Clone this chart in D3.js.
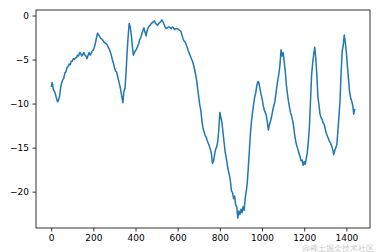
<!DOCTYPE html>
<html>
<head>
<meta charset="utf-8">
<script src="https://cdn.jsdelivr.net/npm/d3@7"></script>
<style>
  body { margin: 0; background: #fff; }
  text { font-family: "DejaVu Sans", sans-serif; }
</style>
</head>
<body>
<div id="chart"></div>
<script>
const xStep = 5;
const values = [
  -8.1, -7.6, -8.4, -8.6, -8.9, -9.4, -9.8, -9.6, -9.1, -8.2,
  -7.6, -7.3, -7.1, -6.5, -6.4, -5.9, -5.8, -5.5, -5.6, -5.2,
  -5.2, -4.9, -5.0, -4.8, -4.8, -4.5, -4.6, -4.2, -4.3, -4.6,
  -4.4, -4.2, -4.5, -4.6, -4.9, -4.5, -4.2, -4.5, -4.3, -4.0,
  -3.9, -3.6, -3.1, -2.5, -2.0, -2.2, -2.4, -2.6, -2.7, -2.8,
  -3.0, -3.1, -3.2, -3.3, -3.6, -3.8, -4.1, -4.5, -5.0, -5.4,
  -5.9, -6.3, -6.4, -6.9, -7.4, -7.9, -8.5, -9.2, -9.9, -8.6,
  -8.3, -6.5, -4.2, -2.4, -0.9, -1.3, -2.2, -3.5, -4.5, -4.2,
  -4.0, -3.8, -3.5, -3.2, -2.7, -2.5, -2.1, -1.7, -1.4, -1.9,
  -2.3, -1.7, -1.4, -1.2, -1.1, -0.9, -0.8, -0.7, -0.6, -0.9,
  -1.0, -1.1, -0.9, -0.8, -0.7, -0.5, -0.7, -1.0, -1.3, -1.5,
  -1.4, -1.3, -1.3, -1.4, -1.5, -1.3, -1.4, -1.6, -1.5, -1.5,
  -1.5, -1.6, -1.7, -1.8, -2.2, -2.6, -2.9, -3.0, -3.3, -3.6,
  -4.0, -4.3, -4.6, -4.9, -5.2, -5.6, -6.1, -6.7, -7.4, -8.4,
  -9.3, -10.2, -10.8, -12.0, -12.8, -13.2, -13.6, -13.8, -14.2, -14.5,
  -14.8, -15.2, -15.7, -16.8, -16.5, -15.8, -15.2, -14.9, -14.3, -13.0,
  -11.0, -11.6, -12.2, -13.3, -14.4, -15.5, -16.1, -16.9, -17.6, -18.1,
  -18.8, -19.9, -20.1, -20.8, -20.5, -21.5, -21.7, -23.0, -22.2, -22.6,
  -22.0, -22.4, -21.7, -22.1, -20.8, -20.0, -19.0, -17.2, -15.3, -13.4,
  -12.0, -11.0, -10.1, -9.3, -8.8, -8.0, -7.5, -7.6, -8.3, -8.9,
  -9.4, -10.1, -10.7, -11.0, -11.3, -12.1, -13.0, -12.4, -12.0, -11.5,
  -10.9, -10.3, -9.9, -9.0, -8.1, -7.3, -6.6, -5.6, -3.9, -4.6,
  -4.2, -5.2, -6.3, -7.8, -8.8, -9.7, -10.4, -11.0, -11.4, -11.9,
  -12.6, -13.6, -14.3, -14.8, -15.2, -15.6, -16.0, -16.5, -16.4, -17.0,
  -16.6, -16.9, -16.2, -15.5, -14.2, -12.5, -9.6, -6.8, -5.4, -4.4,
  -3.6, -4.9, -6.8, -9.2, -10.2, -11.2, -11.6, -11.8, -12.2, -12.4,
  -12.9, -13.4, -13.7, -14.0, -14.3, -14.5, -14.8, -15.2, -15.8, -15.3,
  -15.0, -14.6, -13.0, -11.4, -9.6, -6.5, -4.1, -3.4, -2.2, -3.1,
  -4.2, -5.8, -7.2, -8.6, -9.3, -9.7, -10.2, -11.2, -10.6
];
const xTicks = [0, 200, 400, 600, 800, 1000, 1200, 1400];
const yTicks = [0, -5, -10, -15, -20];

const W = 380, H = 252;
const margin = {top: 10, right: 10, bottom: 24, left: 36};

const svg = d3.select("#chart").append("svg")
    .attr("width", W)
    .attr("height", H);

const data = values.map((v, i) => ({x: i * xStep, y: v}));

// matplotlib style 5% padding round the data
const xExt = d3.extent(data, d => d.x);
const yExt = d3.extent(data, d => d.y);
const xPad = (xExt[1] - xExt[0]) * 0.05;
const yPad = (yExt[1] - yExt[0]) * 0.05;

const x = d3.scaleLinear()
    .domain([xExt[0] - xPad, xExt[1] + xPad])
    .range([margin.left, W - margin.right]);
const y = d3.scaleLinear()
    .domain([yExt[0] - yPad, yExt[1] + yPad])
    .range([H - margin.bottom, margin.top]);

const fmt = d => d < 0 ? "\u2212" + Math.abs(d) : String(d);

svg.append("g")
    .attr("transform", "translate(0," + (H - margin.bottom) + ")")
    .call(d3.axisBottom(x).tickValues(xTicks).tickSize(3.5).tickPadding(3.5).tickFormat(fmt))
    .call(g => g.select(".domain").remove())
    .call(g => g.selectAll("text").attr("font-size", 9).attr("fill", "#000").attr("font-family", "DejaVu Sans"))
    .call(g => g.selectAll("line").attr("stroke", "#000").attr("stroke-width", 0.8));

svg.append("g")
    .attr("transform", "translate(" + margin.left + ",0)")
    .call(d3.axisLeft(y).tickValues(yTicks).tickSize(3.5).tickPadding(3.5).tickFormat(fmt))
    .call(g => g.select(".domain").remove())
    .call(g => g.selectAll("text").attr("font-size", 9).attr("fill", "#000").attr("font-family", "DejaVu Sans"))
    .call(g => g.selectAll("line").attr("stroke", "#000").attr("stroke-width", 0.8));

const line = d3.line()
    .x(d => x(d.x))
    .y(d => y(d.y));

svg.append("path")
    .datum(data)
    .attr("fill", "none")
    .attr("stroke", "#1f77b4")
    .attr("stroke-width", 1.5)
    .attr("stroke-linejoin", "round")
    .attr("d", line);

// frame
svg.append("rect")
    .attr("x", margin.left)
    .attr("y", margin.top)
    .attr("width", W - margin.left - margin.right)
    .attr("height", H - margin.top - margin.bottom)
    .attr("fill", "none")
    .attr("stroke", "#000")
    .attr("stroke-width", 0.8);

// watermark, kept just under the tick labels
svg.append("text")
    .attr("x", W - 6)
    .attr("y", H - 1)
    .attr("text-anchor", "end")
    .attr("font-size", 8)
    .attr("font-family", "Noto Sans CJK SC")
    .attr("fill", "#bbb")
    .attr("opacity", 0.8)
    .text("@稀土掘金技术社区");
</script>
</body>
</html>
